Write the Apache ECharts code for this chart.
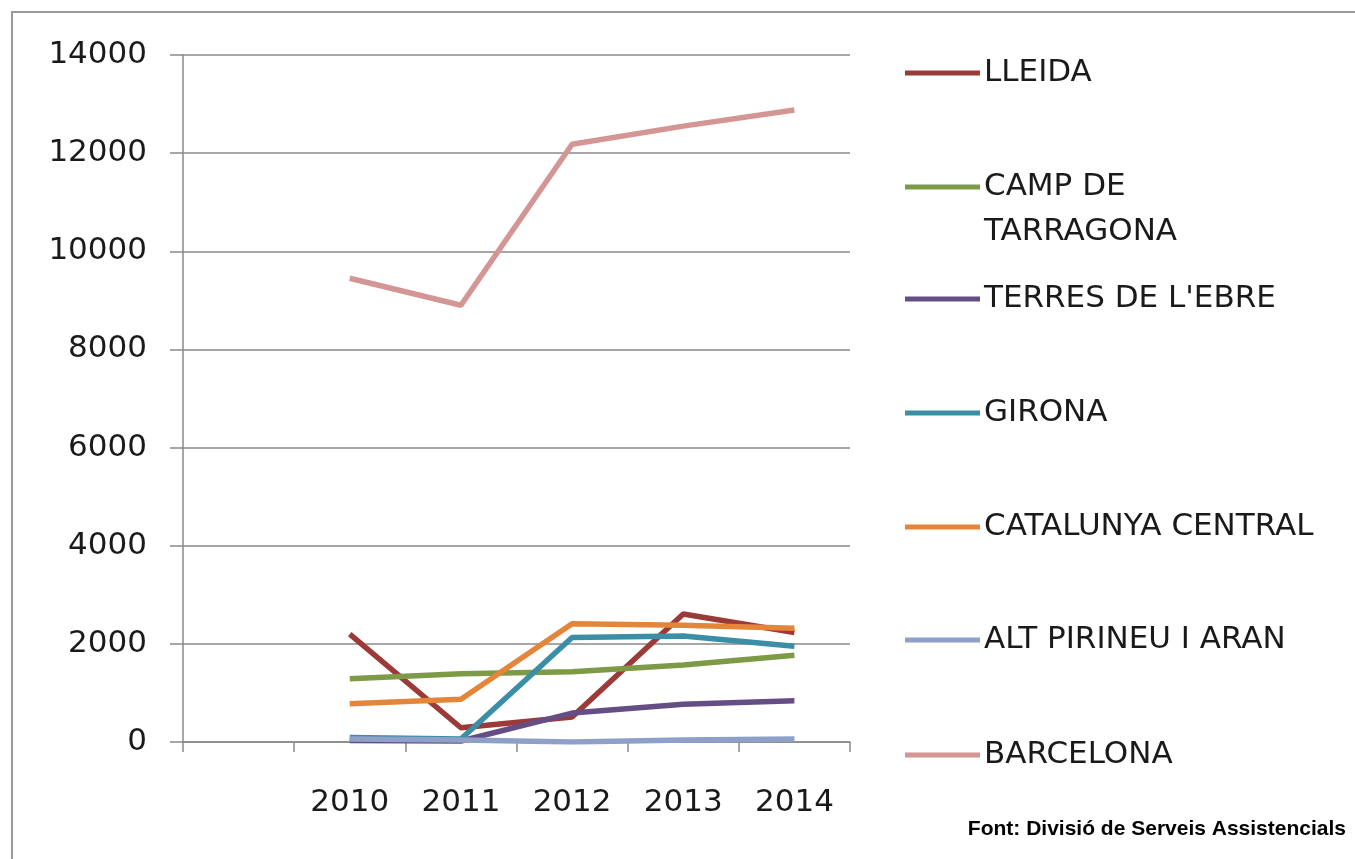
<!DOCTYPE html>
<html>
<head>
<meta charset="utf-8">
<script src="https://cdn.jsdelivr.net/npm/echarts@6/dist/echarts.min.js"></script>
<style>
  html, body { margin: 0; padding: 0; background: #fff; }
  #chart { width: 1355px; height: 859px; }
</style>
</head>
<body>
<div id="chart"></div>
<script>
// first category is left empty, as in the original sheet
const years = ['', '2010', '2011', '2012', '2013', '2014'];

const lleida = [null, 2200, 290, 510, 2610, 2230];
const campTarragona = [null, 1290, 1390, 1430, 1570, 1770];
const terresEbre = [null, 30, 20, 590, 770, 840];
const girona = [null, 90, 60, 2130, 2160, 1950];
const catalunyaCentral = [null, 780, 870, 2410, 2380, 2320];
const altPirineu = [null, 60, 40, 0, 40, 60];
const barcelona = [null, 9450, 8900, 12180, 12550, 12880];

const seriesNames = ['LLEIDA', 'CAMP DE TARRAGONA', "TERRES DE L'EBRE", 'GIRONA',
  'CATALUNYA CENTRAL', 'ALT PIRINEU I ARAN', 'BARCELONA'];
const seriesData = [lleida, campTarragona, terresEbre, girona, catalunyaCentral, altPirineu, barcelona];
const colors = ['#9b3a37', '#7d9a46', '#654e86', '#3a8ea6', '#e4863a', '#8ea0c8', '#d39694'];

// centre of each legend line (y)
const legendY = [73, 187, 299, 413, 527, 640, 755];

const font = 'DejaVu Sans';
const lh = 45;

let chart = echarts.init(document.getElementById('chart'));

// one legend per item so the spacing matches; the wrapped name gets an empty
// first line so its first text line sits level with the key line
let legends = seriesNames.map((name, i) => {
  let wrapped = name === 'CAMP DE TARRAGONA';
  return {
    data: [name],
    left: 905,
    top: wrapped ? legendY[i] - lh * 1.5 : legendY[i] - lh / 2,
    padding: 0,
    icon: 'rect',
    itemWidth: 75,
    itemHeight: 5,
    formatter: (n) => n === 'CAMP DE TARRAGONA' ? ' \nCAMP DE\nTARRAGONA' : n,
    textStyle: {
      fontFamily: font,
      fontSize: 31,
      color: '#1a1a1a',
      lineHeight: lh,
      padding: [0, 0, 0, -1]
    }
  };
});

let option = {
  animation: false,
  backgroundColor: '#fff',
  graphic: [
    {
      type: 'rect',
      shape: { x: 12, y: 12, width: 1370, height: 880 },
      style: { fill: 'none', stroke: '#9a9a9a', lineWidth: 2 }
    },
    {
      type: 'text',
      right: 9,
      top: 819,
      style: {
        text: 'Font: Divisió de Serveis Assistencials',
        font: 'bold 21px "Liberation Sans", Arial, sans-serif',
        fill: '#000'
      }
    }
  ],
  legend: legends,
  grid: {
    left: 183,
    right: 505,
    top: 55,
    bottom: 117,
    containLabel: false
  },
  xAxis: {
    type: 'category',
    data: years,
    boundaryGap: true,
    axisLine: { lineStyle: { color: '#8a8a8a', width: 1.5 } },
    axisTick: { show: true, alignWithLabel: false, length: 10, lineStyle: { color: '#8a8a8a', width: 1.5 } },
    axisLabel: {
      interval: 0,
      margin: 45,
      fontFamily: font,
      fontSize: 31,
      color: '#1a1a1a'
    },
    splitLine: { show: false }
  },
  yAxis: {
    type: 'value',
    min: 0,
    max: 14000,
    interval: 2000,
    axisLine: { show: true, lineStyle: { color: '#8a8a8a', width: 1.5 } },
    axisTick: { show: true, length: 13, lineStyle: { color: '#8a8a8a', width: 1.5 } },
    axisLabel: {
      margin: 36,
      fontFamily: font,
      fontSize: 31,
      color: '#1a1a1a',
      formatter: (v) => String(v)
    },
    splitLine: { show: true, lineStyle: { color: '#8a8a8a', width: 1.5 } }
  },
  series: seriesNames.map((name, i) => ({
    name: name,
    type: 'line',
    data: seriesData[i],
    symbol: 'none',
    color: colors[i],
    lineStyle: { width: 5.5, color: colors[i] }
  }))
};

chart.setOption(option);
</script>
</body>
</html>
